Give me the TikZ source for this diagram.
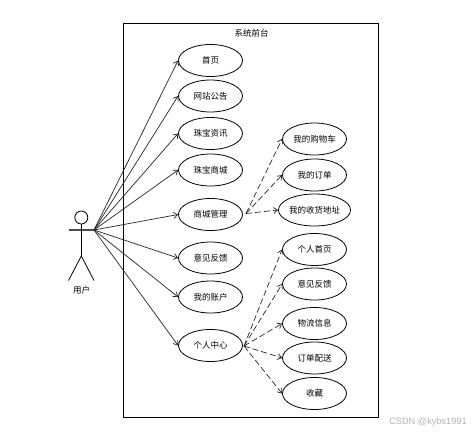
\documentclass[tikz,border=0pt]{standalone}
\usepackage{fontspec}
\setmainfont{Noto Sans CJK SC}
\newfontfamily\wmfont{Liberation Sans}
\usetikzlibrary{arrows.meta,shapes.geometric}
\tikzset{
  usecase/.style={draw=black,ellipse,line width=0.8pt,minimum width=64pt,minimum height=32pt,inner sep=0pt,font=\fontsize{8.5}{10}\selectfont,text=black},
  assoc/.style={draw=black!85,line width=0.7pt,-{Straight Barb[length=4pt,width=6pt]}},
  dep/.style={assoc,dash pattern=on 6pt off 3pt},
  body/.style={draw=black,line width=0.8pt},
  plain/.style={inner sep=0pt,font=\fontsize{8.5}{10}\selectfont,text=black}
}
\begin{document}
\begin{tikzpicture}[x=1pt,y=-1pt]
\useasboundingbox[fill=white] (0,0) rectangle (472,434);
\node[draw=black,line width=0.8pt,minimum width=255pt,minimum height=394pt,inner sep=0pt] (sys) at (251,220) {};
\node[plain] (title) at (251.5,33) {系统前台};
% actor
\node[draw=black,circle,line width=0.8pt,minimum size=13pt,inner sep=0pt] (head) at (81.3,217.5) {};
\coordinate (arml) at (68.5,230);
\coordinate (hand) at (94,230);
\coordinate (hip) at (81.3,256);
\coordinate (footl) at (68.5,280.5);
\coordinate (footr) at (94,280.5);
\draw[draw=black!70,line width=1.2pt] (arml) -- (hand);
\draw[body] (head.south) -- (hip);
\draw[body] (footl) -- (hip) -- (footr);
\node[plain] (actor) at (81.5,290) {用户};
% left column
\node[usecase] (a1) at (210.5,60.5) {首页};
\node[usecase] (a2) at (210.5,96) {网站公告};
\node[usecase] (a3) at (210.5,133.5) {珠宝资讯};
\node[usecase] (a4) at (210.5,170) {珠宝商城};
\node[usecase] (a5) at (210.5,214.5) {商城管理};
\node[usecase] (a6) at (210.5,258) {意见反馈};
\node[usecase] (a7) at (210.5,297) {我的账户};
\node[usecase] (a8) at (210.5,345.5) {个人中心};
% right column
\node[usecase] (b1) at (314.5,139) {我的购物车};
\node[usecase] (b2) at (314.5,175) {我的订单};
\node[usecase] (b3) at (314.5,210) {我的收货地址};
\node[usecase] (c1) at (314.5,249.5) {个人首页};
\node[usecase] (c2) at (314.5,284) {意见反馈};
\node[usecase] (c3) at (314.5,323.5) {物流信息};
\node[usecase] (c4) at (314.5,358) {订单配送};
\node[usecase] (c5) at (314.5,393.5) {收藏};
\coordinate (mgr) at (246,213.5);
\coordinate (ctr) at (244,346);
\foreach \t in {a1,a2,a3,a4,a5,a6,a7,a8}
  \draw[assoc] (hand) -- (\t.west);
\foreach \t in {b1,b2,b3}
  \draw[dep] (mgr) -- (\t.west);
\foreach \t in {c1,c2,c3,c4,c5}
  \draw[dep] (ctr) -- (\t.west);
\node[inner sep=0pt,text=black!30,font=\wmfont\fontsize{9.2}{10}\selectfont] (wm) at (428,422) {CSDN @kybs1991};
\end{tikzpicture}
\end{document}
